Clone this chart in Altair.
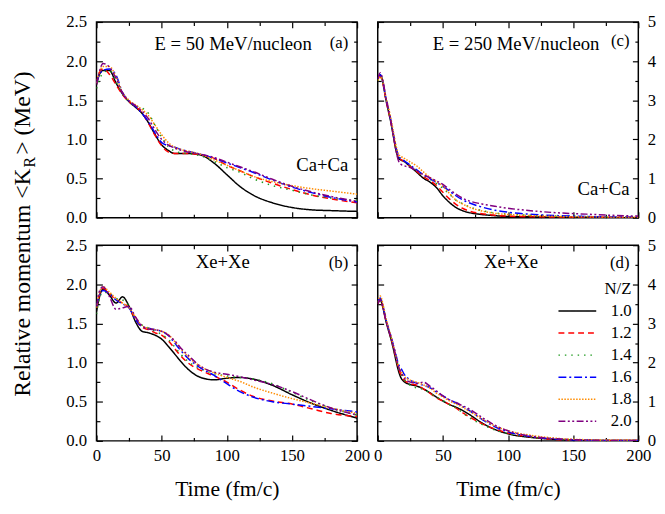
import altair as alt
import pandas as pd

FONT = "Liberation Serif"

NZ = ["1.0", "1.2", "1.4", "1.6", "1.8", "2.0"]
COLORS = ["#000000", "#ff0000", "#1f9a1f", "#0000ff", "#ff8c00", "#800080"]
DASHES = [[1, 0], [6, 4], [1.5, 5], [8, 3, 2, 3], [1.5, 1.5], [7, 2.5, 2, 2.5, 2, 2.5]]

T_50 = [0, 2, 5, 10, 15, 20, 25, 30, 35, 40, 45, 50, 55, 60, 65, 70, 80, 90, 100, 110,
        120, 135, 150, 165, 180, 200]
T_250 = [0, 2, 4, 6, 8, 10, 12, 14, 16, 18, 20, 25, 30, 35, 40, 45, 50, 55, 60, 65, 70,
         80, 90, 100, 120, 140, 160, 180, 200]

# (a) Ca+Ca, E = 50 MeV/nucleon
CA50_10 = [1.70, 1.82, 1.88, 1.88, 1.72, 1.58, 1.48, 1.41, 1.33, 1.21, 1.06, 0.93, 0.86, 0.82, 0.82, 0.82, 0.80, 0.70, 0.55, 0.40, 0.29, 0.19, 0.13, 0.10, 0.09, 0.08]
CA50_12 = [1.72, 1.85, 1.90, 1.83, 1.70, 1.57, 1.48, 1.42, 1.34, 1.20, 1.05, 0.92, 0.84, 0.82, 0.82, 0.82, 0.80, 0.76, 0.67, 0.60, 0.53, 0.44, 0.36, 0.29, 0.24, 0.19]
CA50_14 = [1.65, 1.75, 1.85, 1.88, 1.74, 1.58, 1.48, 1.43, 1.40, 1.33, 1.18, 1.03, 0.91, 0.85, 0.83, 0.82, 0.79, 0.72, 0.64, 0.58, 0.50, 0.41, 0.35, 0.29, 0.25, 0.22]
CA50_16 = [1.72, 1.82, 1.88, 1.90, 1.82, 1.60, 1.49, 1.42, 1.33, 1.22, 1.08, 0.96, 0.92, 0.90, 0.87, 0.85, 0.81, 0.76, 0.70, 0.64, 0.58, 0.48, 0.39, 0.32, 0.26, 0.20]
CA50_18 = [1.72, 1.85, 1.93, 1.93, 1.80, 1.60, 1.50, 1.44, 1.38, 1.30, 1.18, 1.06, 0.96, 0.90, 0.87, 0.85, 0.81, 0.74, 0.67, 0.60, 0.53, 0.46, 0.41, 0.37, 0.34, 0.30]
CA50_20 = [1.70, 1.85, 1.97, 1.92, 1.78, 1.59, 1.49, 1.43, 1.36, 1.26, 1.12, 1.00, 0.93, 0.89, 0.86, 0.84, 0.81, 0.77, 0.71, 0.65, 0.59, 0.49, 0.40, 0.33, 0.27, 0.21]

# (b) Xe+Xe, E = 50 MeV/nucleon
XE50_10 = [1.65, 1.82, 1.94, 1.86, 1.76, 1.84, 1.72, 1.52, 1.40, 1.38, 1.35, 1.30, 1.21, 1.11, 1.01, 0.92, 0.81, 0.78, 0.80, 0.81, 0.79, 0.71, 0.59, 0.48, 0.39, 0.29]
XE50_12 = [1.70, 1.85, 1.95, 1.88, 1.80, 1.76, 1.70, 1.55, 1.45, 1.42, 1.38, 1.35, 1.28, 1.18, 1.08, 1.00, 0.90, 0.83, 0.75, 0.65, 0.57, 0.51, 0.47, 0.41, 0.35, 0.31]
XE50_14 = [1.62, 1.80, 1.90, 1.88, 1.82, 1.80, 1.72, 1.55, 1.48, 1.44, 1.40, 1.36, 1.30, 1.20, 1.10, 1.02, 0.92, 0.86, 0.83, 0.81, 0.79, 0.73, 0.62, 0.51, 0.42, 0.33]
XE50_16 = [1.72, 1.85, 1.92, 1.88, 1.80, 1.75, 1.70, 1.55, 1.46, 1.44, 1.42, 1.40, 1.35, 1.25, 1.15, 1.06, 0.93, 0.84, 0.73, 0.63, 0.56, 0.50, 0.47, 0.44, 0.41, 0.37]
XE50_18 = [1.70, 1.88, 1.97, 1.90, 1.82, 1.76, 1.70, 1.58, 1.47, 1.44, 1.42, 1.40, 1.36, 1.27, 1.17, 1.08, 0.95, 0.87, 0.81, 0.76, 0.69, 0.61, 0.54, 0.48, 0.42, 0.35]
XE50_20 = [1.72, 1.90, 1.97, 1.84, 1.68, 1.70, 1.72, 1.58, 1.47, 1.43, 1.42, 1.40, 1.35, 1.28, 1.18, 1.10, 0.95, 0.88, 0.85, 0.82, 0.78, 0.72, 0.63, 0.52, 0.42, 0.33]

# (c) Ca+Ca, E = 250 MeV/nucleon
CA250_10 = [3.55, 3.65, 3.45, 3.07, 2.75, 2.45, 2.08, 1.72, 1.52, 1.47, 1.44, 1.30, 1.16, 1.01, 0.91, 0.77, 0.56, 0.39, 0.26, 0.18, 0.13, 0.08, 0.05, 0.03, 0.02, 0.01, 0.01, 0.00, 0.00]
CA250_12 = [3.55, 3.60, 3.42, 3.05, 2.75, 2.45, 2.10, 1.75, 1.55, 1.48, 1.45, 1.31, 1.18, 1.05, 0.95, 0.82, 0.65, 0.48, 0.34, 0.24, 0.17, 0.10, 0.06, 0.04, 0.02, 0.01, 0.01, 0.01, 0.00]
CA250_14 = [3.50, 3.62, 3.45, 3.08, 2.78, 2.48, 2.12, 1.78, 1.56, 1.50, 1.46, 1.33, 1.20, 1.08, 0.98, 0.87, 0.75, 0.60, 0.45, 0.36, 0.28, 0.18, 0.12, 0.09, 0.06, 0.04, 0.03, 0.02, 0.02]
CA250_16 = [3.55, 3.65, 3.45, 3.10, 2.80, 2.50, 2.15, 1.80, 1.57, 1.50, 1.46, 1.34, 1.22, 1.10, 1.00, 0.90, 0.80, 0.68, 0.56, 0.46, 0.38, 0.27, 0.19, 0.14, 0.08, 0.05, 0.03, 0.02, 0.02]
CA250_18 = [3.50, 3.60, 3.48, 3.12, 2.85, 2.55, 2.20, 1.85, 1.62, 1.56, 1.52, 1.42, 1.32, 1.17, 1.03, 0.92, 0.80, 0.62, 0.45, 0.35, 0.27, 0.17, 0.11, 0.08, 0.05, 0.03, 0.02, 0.01, 0.01]
CA250_20 = [3.55, 3.70, 3.50, 3.12, 2.80, 2.48, 2.10, 1.72, 1.45, 1.36, 1.33, 1.28, 1.20, 1.10, 1.02, 0.94, 0.85, 0.72, 0.60, 0.50, 0.43, 0.35, 0.29, 0.24, 0.17, 0.12, 0.09, 0.06, 0.04]

# (d) Xe+Xe, E = 250 MeV/nucleon
XE250_10 = [3.50, 3.60, 3.40, 3.10, 2.85, 2.62, 2.35, 2.05, 1.78, 1.60, 1.52, 1.44, 1.40, 1.33, 1.23, 1.12, 1.02, 0.93, 0.86, 0.78, 0.68, 0.46, 0.29, 0.18, 0.08, 0.03, 0.01, 0.01, 0.01]
XE250_12 = [3.50, 3.62, 3.42, 3.12, 2.88, 2.65, 2.40, 2.12, 1.85, 1.68, 1.57, 1.46, 1.42, 1.33, 1.22, 1.10, 1.02, 0.93, 0.84, 0.72, 0.62, 0.44, 0.30, 0.20, 0.09, 0.03, 0.02, 0.01, 0.01]
XE250_14 = [3.52, 3.62, 3.45, 3.15, 2.90, 2.68, 2.42, 2.15, 1.88, 1.70, 1.58, 1.42, 1.35, 1.32, 1.22, 1.12, 1.03, 0.93, 0.85, 0.72, 0.60, 0.42, 0.28, 0.19, 0.09, 0.04, 0.02, 0.01, 0.01]
XE250_16 = [3.55, 3.65, 3.45, 3.15, 2.90, 2.70, 2.45, 2.20, 1.95, 1.85, 1.72, 1.55, 1.47, 1.42, 1.36, 1.25, 1.15, 1.05, 0.97, 0.88, 0.78, 0.55, 0.36, 0.23, 0.10, 0.04, 0.02, 0.01, 0.01]
XE250_18 = [3.55, 3.70, 3.50, 3.18, 2.92, 2.70, 2.45, 2.18, 1.90, 1.78, 1.66, 1.55, 1.50, 1.43, 1.35, 1.22, 1.12, 1.02, 0.94, 0.86, 0.76, 0.56, 0.38, 0.26, 0.13, 0.06, 0.03, 0.02, 0.02]
XE250_20 = [3.50, 3.60, 3.42, 3.12, 2.88, 2.66, 2.42, 2.15, 1.88, 1.75, 1.62, 1.50, 1.47, 1.50, 1.40, 1.28, 1.15, 1.05, 0.98, 0.90, 0.82, 0.60, 0.40, 0.26, 0.11, 0.05, 0.02, 0.01, 0.01]

X_MAJOR = [0, 50, 100, 150, 200]
X_MINOR = [25, 75, 125, 175]
Y25_MAJOR = [0, 0.5, 1.0, 1.5, 2.0, 2.5]
Y25_MINOR = [0.25, 0.75, 1.25, 1.75, 2.25]
Y5_MAJOR = [0, 1, 2, 3, 4, 5]
Y5_MINOR = [0.5, 1.5, 2.5, 3.5, 4.5]

W, H = 265, 199


def long_df(times, series):
    rows = []
    for nz, vals in zip(NZ, series):
        for t, v in zip(times, vals):
            rows.append({"t": t, "v": v, "NZ": nz})
    return pd.DataFrame(rows)


LEGEND = alt.Legend(
    title="N/Z", orient="none", legendX=470, legendY=264,
    symbolType="M-2.4,0H2.4", symbolSize=256, symbolStrokeWidth=1.5, symbolOffset=10,
    labelFont=FONT, labelFontSize=17, labelColor="black", labelOffset=25,
    titleFont=FONT, titleFontSize=17, titleFontWeight="normal", titleColor="black",
    titleAnchor="end", titlePadding=4, rowPadding=5.4, padding=0,
)


def axis(orient, values, size, labels, fmt=None, title=None, pad=8):
    kw = dict(orient=orient, values=values, tickSize=size, offset=-size, labels=labels,
              domain=False, grid=False, ticks=True, tickColor="black", tickWidth=1.2,
              labelFont=FONT, labelFontSize=17, labelColor="black", labelPadding=pad,
              labelFlush=False, title=title, titleFont=FONT, titleFontSize=22,
              titleFontWeight=400, titleColor="black", titlePadding=16)
    if fmt:
        kw["format"] = fmt
    return alt.Axis(**kw)


def label(txt, x, y, size=19, align="left", angle=0):
    return alt.Chart(pd.DataFrame({"s": [txt]})).mark_text(
        font=FONT, fontSize=size, align=align, baseline="alphabetic", angle=angle,
        color="black").encode(text="s:N", x=alt.value(x), y=alt.value(y))


def panel(df, ymax, ymaj, ymin, left_side, bottom, fmt, texts):
    xs = alt.Scale(domain=[0, 200], nice=False, zero=False)
    ys = alt.Scale(domain=[0, ymax], nice=False)
    base = alt.Chart(df)
    xtitle = "Time (fm/c)" if bottom else None
    lines = base.mark_line(interpolate="monotone", clip=True, strokeWidth=1.5).encode(
        x=alt.X("t:Q", scale=xs, axis=axis("bottom", X_MAJOR, 6, bottom, title=xtitle, pad=7)),
        y=alt.Y("v:Q", scale=ys, axis=axis("left", ymaj, 6, left_side, fmt=fmt, pad=10)),
        color=alt.Color("NZ:N", scale=alt.Scale(domain=NZ, range=COLORS), legend=LEGEND),
        strokeDash=alt.StrokeDash("NZ:N", scale=alt.Scale(domain=NZ, range=DASHES), legend=LEGEND),
    )
    l2 = base.mark_point(opacity=0).encode(
        x=alt.X("t:Q", scale=xs, axis=axis("top", X_MAJOR, 6, False)),
        y=alt.Y("v:Q", scale=ys, axis=axis("right", ymaj, 6, not left_side, fmt=fmt, pad=9)),
    )
    l3 = base.mark_point(opacity=0).encode(
        x=alt.X("t:Q", scale=xs, axis=axis("bottom", X_MINOR, 3.5, False)),
        y=alt.Y("v:Q", scale=ys, axis=axis("left", ymin, 3.5, False)),
    )
    l4 = base.mark_point(opacity=0).encode(
        x=alt.X("t:Q", scale=xs, axis=axis("top", X_MINOR, 3.5, False)),
        y=alt.Y("v:Q", scale=ys, axis=axis("right", ymin, 3.5, False)),
    )
    layers = [lines, l2, l3, l4] + texts
    return alt.layer(*layers).resolve_axis(x="independent", y="independent").properties(
        width=W, height=H)


pa = panel(long_df(T_50, [CA50_10, CA50_12, CA50_14, CA50_16, CA50_18, CA50_20]),
           2.5, Y25_MAJOR, Y25_MINOR, True, False, ".1f",
           [label("E = 50 MeV/nucleon", 59, 29),
            label("(a)", 256, 26, size=17, align="right"),
            label("Ca+Ca", 256, 152, align="right")])

pc = panel(long_df(T_250, [CA250_10, CA250_12, CA250_14, CA250_16, CA250_18, CA250_20]),
           5, Y5_MAJOR, Y5_MINOR, False, False, "d",
           [label("E = 250 MeV/nucleon", 56, 29),
            label("(c)", 256, 24, size=17, align="right"),
            label("Ca+Ca", 256, 176, align="right")])

pb = panel(long_df(T_50, [XE50_10, XE50_12, XE50_14, XE50_16, XE50_18, XE50_20]),
           2.5, Y25_MAJOR, Y25_MINOR, True, True, ".1f",
           [label("Xe+Xe", 101, 23),
            label("(b)", 256, 23, size=17, align="right"),
            label("Relative momentum <K", -68, -78, size=24, align="right", angle=270),
            label("R", -63, -79, size=16, align="left", angle=270),
            label("> (MeV)", -68, -92, size=24, align="left", angle=270)])

pd_ = panel(long_df(T_250, [XE250_10, XE250_12, XE250_14, XE250_16, XE250_18, XE250_20]),
            5, Y5_MAJOR, Y5_MINOR, False, True, "d",
            [label("Xe+Xe", 108, 23),
             label("(d)", 256, 23, size=17, align="right")])

chart = alt.concat(pa, pc, pb, pd_, columns=2,
                   spacing=alt.RowColnumber(row=28, column=21)).properties(
    bounds="flush",
    padding={"left": 2, "top": 0, "right": 0, "bottom": 0},
).configure(font=FONT).configure_view(stroke="black", strokeWidth=1.5)

chart.save("out.html", embed_options={"renderer": "svg", "actions": False})
